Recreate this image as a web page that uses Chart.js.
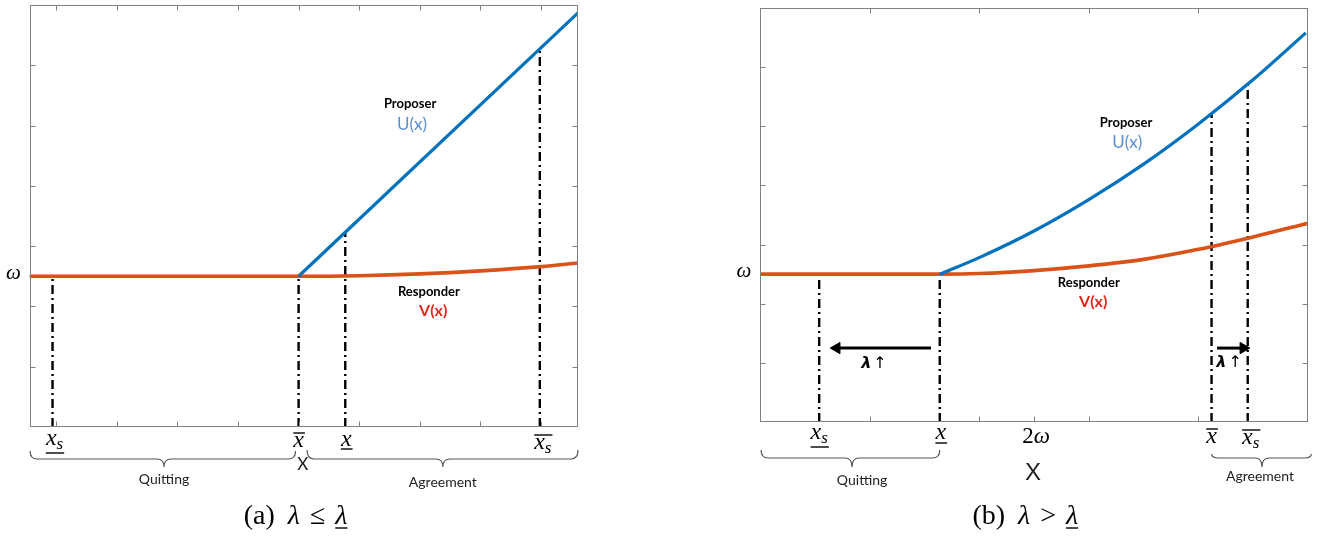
<!DOCTYPE html>
<html><head><meta charset="utf-8">
<script src="https://cdn.jsdelivr.net/npm/chart.js@4.4.0/dist/chart.umd.min.js"></script>
<style>
html,body{margin:0;padding:0;background:#fff;overflow:hidden;}
#wrap{position:relative;width:1326px;height:546px;}
#c1{position:absolute;left:0;top:0;}
#c2{position:absolute;left:663px;top:0;}
</style></head><body>
<div id="wrap"><canvas id="c1" width="663" height="546"></canvas><canvas id="c2" width="663" height="546"></canvas></div>
<script>
// ---------- Panel (a) data ----------
const aUx = [5.0, 9.61];
const aUy = [2.5, 6.87];
const aVx = [0.56, 5.0, 6.0, 7.0, 8.0, 9.0, 9.61];
const aVy = [2.5, 2.5, 2.51, 2.54, 2.59, 2.66, 2.72];
const aMarkX = [0.94, 5.0, 5.77, 8.98];
const aMarkTop = [2.5, 2.5, 3.23, 6.27];
const aXTicks = [1, 2, 3, 4, 5, 6, 7, 8, 9];
// ---------- Panel (b) data ----------
const bUx = [1.64, 2.0, 2.5, 3.0, 3.5, 4.0, 4.5, 4.98];
const bUy = [2.5, 2.78, 3.23, 3.76, 4.36, 5.04, 5.79, 6.58];
const bVx = [0, 1.64, 2.0, 2.5, 3.0, 3.5, 4.0, 4.5, 5.0];
const bVy = [2.5, 2.5, 2.51, 2.56, 2.64, 2.75, 2.92, 3.13, 3.36];
const bMarkX = [0.54, 1.64, 4.12, 4.45];
const bMarkTop = [2.5, 2.5, 5.21, 5.72];
const bXTicksTop = [1, 2, 3, 4];
const bXTicksBottom = [1, 2, 2.5, 3, 4];
const bArrowFrom = [1.56, 4.17];
const bArrowTo = [0.70, 4.41];
const bArrowY = 1.25;
// ---------- shared ----------
const yTicks = [1, 2, 3, 4, 5, 6];
const omega = 2.5;
const twoOmega = 2.5;

const BLUE = '#0072BD', ORANGE = '#D95319';
const zip = (xs, ys) => xs.map((v, i) => ({x: v, y: ys[i]}));

function markerSets(xs, tops) {
  return xs.map((v, i) => ({
    data: [{x: v, y: 0}, {x: v, y: tops[i]}],
    borderColor: '#000', borderWidth: 2.4, borderDash: [9, 4, 2, 4], pointRadius: 0
  }));
}

function drawXLabel(ctx, cx, base, spec) {
  const big = 'italic 24px "Liberation Serif"', small = 'italic 17px "Liberation Serif"';
  ctx.font = big; const wx = ctx.measureText('x').width;
  ctx.font = small; const ws = spec.sub ? ctx.measureText(spec.sub).width : 0;
  const w = wx + ws, x0 = cx - w / 2;
  ctx.fillStyle = '#000'; ctx.textAlign = 'left'; ctx.textBaseline = 'alphabetic';
  ctx.font = big; ctx.fillText('x', x0, base);
  if (spec.sub) { ctx.font = small; ctx.fillText(spec.sub, x0 + wx, base + 4); }
  ctx.strokeStyle = '#000'; ctx.lineWidth = 1.4;
  const by = spec.bar === 'over' ? base - 14 : base + spec.ul;
  ctx.beginPath(); ctx.moveTo(x0, by); ctx.lineTo(x0 + w + 1, by); ctx.stroke();
}

function drawBrace(ctx, x1, x2, tx, yTop, yMid, yTip) {
  const r = 7;
  ctx.strokeStyle = '#555'; ctx.lineWidth = 1.2;
  ctx.beginPath();
  ctx.moveTo(x1, yTop);
  ctx.quadraticCurveTo(x1, yMid, x1 + r, yMid);
  ctx.lineTo(tx - r, yMid);
  ctx.quadraticCurveTo(tx, yMid, tx, yTip);
  ctx.quadraticCurveTo(tx, yMid, tx + r, yMid);
  ctx.lineTo(x2 - r, yMid);
  ctx.quadraticCurveTo(x2, yMid, x2, yTop);
  ctx.stroke();
}

function drawCaption(ctx, cx, base, letter, rel) {
  const up = '28px "Liberation Serif"', it = 'italic 28px "Liberation Serif"';
  const parts = [[letter, up, 13], ['λ', it, 10], [rel, up, 10], ['λ', it, 0]];
  let total = 0;
  parts.forEach(p => { ctx.font = p[1]; p.w = ctx.measureText(p[0]).width; total += p.w + p[2]; });
  let x = cx - total / 2;
  ctx.fillStyle = '#000'; ctx.textAlign = 'left'; ctx.textBaseline = 'alphabetic';
  parts.forEach((p, i) => {
    ctx.font = p[1]; ctx.fillText(p[0], x, base);
    if (i === 3) { ctx.strokeStyle = '#000'; ctx.lineWidth = 1.4; ctx.beginPath(); ctx.moveTo(x, base + 4); ctx.lineTo(x + p.w, base + 4); ctx.stroke(); }
    x += p.w + p[2];
  });
}

function makeDeco(cfg) {
  return {
    id: 'deco',
    afterDatasetsDraw(chart) {
      const {ctx, chartArea: a, scales: {x, y}} = chart;
      const L = Math.round(a.left) + 0.5, R = Math.round(a.right) - 0.5, T = Math.round(a.top) + 0.5, B = Math.round(a.bottom) - 0.5;
      ctx.save();
      ctx.strokeStyle = '#808080'; ctx.lineWidth = 1;
      ctx.strokeRect(L, T, R - L, B - T);
      ctx.beginPath();
      cfg.ticksTop.forEach(v => { const p = Math.round(x.getPixelForValue(v)) + 0.5; ctx.moveTo(p, T); ctx.lineTo(p, T + 5); });
      cfg.ticksBottom.forEach(v => { const p = Math.round(x.getPixelForValue(v)) + 0.5; ctx.moveTo(p, B); ctx.lineTo(p, B - 5); });
      yTicks.forEach(v => { const p = Math.round(y.getPixelForValue(v)) + 0.5; ctx.moveTo(L, p); ctx.lineTo(L + 5, p); ctx.moveTo(R, p); ctx.lineTo(R - 5, p); });
      ctx.stroke();
      // omega label
      ctx.fillStyle = '#000'; ctx.font = 'italic 21px "Liberation Serif"'; ctx.textAlign = 'center'; ctx.textBaseline = 'middle';
      ctx.fillText('ω', a.left - cfg.omegaDx, y.getPixelForValue(omega) - 3);
      // x labels
      cfg.xLabels.forEach(l => drawXLabel(ctx, x.getPixelForValue(l.v) + (l.dx || 0), a.bottom + l.dy, l));
      if (cfg.twoOmega) {
        const cx = x.getPixelForValue(twoOmega) + 2, base = a.bottom + 21;
        ctx.font = '23px "Liberation Serif"'; const w2 = ctx.measureText('2').width;
        ctx.font = 'italic 23px "Liberation Serif"'; const ww = ctx.measureText('ω').width;
        const x0 = cx - (w2 + ww) / 2;
        ctx.textAlign = 'left'; ctx.textBaseline = 'alphabetic';
        ctx.font = '23px "Liberation Serif"'; ctx.fillText('2', x0, base);
        ctx.font = 'italic 23px "Liberation Serif"'; ctx.fillText('ω', x0 + w2, base);
      }
      // braces and their texts
      cfg.braces.forEach(b => {
        drawBrace(ctx, x.getPixelForValue(b.x1), x.getPixelForValue(b.x2), x.getPixelForValue(b.tip), b.yTop, b.yMid, b.yTip);
        ctx.fillStyle = '#222'; ctx.font = '14px Lato'; ctx.textAlign = 'center'; ctx.textBaseline = 'middle';
        ctx.fillText(b.text, x.getPixelForValue(b.tip) + (b.tdx || 0), b.ty);
      });
      // axis X letter
      ctx.fillStyle = '#222'; ctx.font = cfg.X.font; ctx.textAlign = 'center'; ctx.textBaseline = 'middle';
      ctx.fillText('X', x.getPixelForValue(cfg.X.v), cfg.X.y);
      // curve names
      cfg.texts.forEach(t => {
        ctx.fillStyle = t.color; ctx.font = t.font; ctx.textAlign = 'center'; ctx.textBaseline = 'middle';
        ctx.fillText(t.text, x.getPixelForValue(t.x), y.getPixelForValue(t.y));
      });
      // lambda arrows labels
      (cfg.lams || []).forEach(l => {
        const cx = x.getPixelForValue(l.x), cy = y.getPixelForValue(l.y);
        ctx.font = 'bold italic 16px "DejaVu Sans"'; const w1 = ctx.measureText('λ').width;
        ctx.font = '16px "DejaVu Sans"'; const w2 = ctx.measureText('↑').width;
        const x0 = cx - (w1 + w2 + 2) / 2;
        ctx.fillStyle = '#000'; ctx.textAlign = 'left'; ctx.textBaseline = 'middle';
        ctx.font = 'bold italic 16px "DejaVu Sans"'; ctx.fillText('λ', x0, cy);
        ctx.font = '16px "DejaVu Sans"'; ctx.fillText('↑', x0 + w1 + 2, cy);
      });
      drawCaption(ctx, x.getPixelForValue(cfg.cap.v), cfg.cap.base, cfg.cap.letter, cfg.cap.rel);
      ctx.restore();
    }
  };
}

function makeChart(id, cfg) {
  return new Chart(document.getElementById(id), {
    type: 'line',
    data: {datasets: cfg.datasets},
    options: {
      responsive: false, animation: false, events: [],
      layout: {padding: cfg.padding},
      scales: {
        x: {type: 'linear', display: false, min: cfg.xmin, max: cfg.xmax},
        y: {type: 'linear', display: false, min: 0, max: 7}
      },
      plugins: {legend: {display: false}, tooltip: {enabled: false}},
      elements: {point: {radius: 0}, line: {borderCapStyle: 'butt'}}
    },
    plugins: [makeDeco(cfg)]
  });
}

// ---------- Panel (a) ----------
makeChart('c1', {
  padding: {left: 29.5, right: 85, top: 5, bottom: 119},
  xmin: 0.56, xmax: 9.61,
  ticksTop: aXTicks, ticksBottom: aXTicks, omegaDx: 16,
  datasets: [
    {data: zip(aUx, aUy), borderColor: BLUE, borderWidth: 3.2, pointRadius: 0},
    {data: zip(aVx, aVy), borderColor: ORANGE, borderWidth: 3.6, pointRadius: 0, cubicInterpolationMode: 'monotone'},
    ...markerSets(aMarkX, aMarkTop)
  ],
  xLabels: [
    {v: aMarkX[0], sub: 's', bar: 'under', ul: 8, dy: 18, dx: 2},
    {v: aMarkX[1], sub: '', bar: 'over', dy: 20},
    {v: aMarkX[2], sub: '', bar: 'under', ul: 3, dy: 19, dx: 1},
    {v: aMarkX[3], sub: 's', bar: 'over', dy: 22, dx: 3}
  ],
  braces: [
    {x1: 0.57, x2: 4.95, tip: 2.78, yTop: 451, yMid: 459, yTip: 467, text: 'Quitting', ty: 479},
    {x1: 5.14, x2: 9.61, tip: 7.38, yTop: 450, yMid: 459, yTip: 467, text: 'Agreement', ty: 482}
  ],
  X: {v: 5.07, y: 465, font: '17px Lato'},
  texts: [
    {text: 'Proposer', x: 6.84, y: 5.36, color: '#000', font: 'bold 13px Lato'},
    {text: 'U(x)', x: 6.87, y: 5.02, color: '#5a8fd0', font: '17px Lato'},
    {text: 'Responder', x: 7.15, y: 2.24, color: '#000', font: 'bold 13px Lato'},
    {text: 'V(x)', x: 7.22, y: 1.92, color: '#e0261c', font: 'bold 16px Lato'}
  ],
  cap: {v: 4.95, base: 524, letter: '(a)', rel: '≤'}
});

// ---------- Panel (b) ----------
makeChart('c2', {
  padding: {left: 97, right: 18, top: 8, bottom: 124},
  xmin: 0, xmax: 5,
  ticksTop: bXTicksTop, ticksBottom: bXTicksBottom, omegaDx: 16,
  twoOmega: true,
  datasets: [
    {data: zip(bUx, bUy), borderColor: BLUE, borderWidth: 3.2, pointRadius: 0, cubicInterpolationMode: 'monotone'},
    {data: zip(bVx, bVy), borderColor: ORANGE, borderWidth: 3.6, pointRadius: 0, cubicInterpolationMode: 'monotone'},
    ...markerSets(bMarkX, bMarkTop),
    ...bArrowFrom.map((f, i) => ({
      data: [{x: f, y: bArrowY}, {x: bArrowTo[i], y: bArrowY}],
      borderColor: '#000', borderWidth: 3,
      pointStyle: 'triangle', pointRadius: [0, 6.5], pointRotation: [0, bArrowTo[i] < f ? -90 : 90],
      pointBackgroundColor: '#000', pointBorderColor: '#000', pointBorderWidth: 1
    }))
  ],
  xLabels: [
    {v: bMarkX[0], sub: 's', bar: 'under', ul: 8, dy: 17},
    {v: bMarkX[1], sub: '', bar: 'under', ul: 4, dy: 17, dx: 1},
    {v: bMarkX[2], sub: '', bar: 'over', dy: 21},
    {v: bMarkX[3], sub: 's', bar: 'over', dy: 22, dx: 3}
  ],
  braces: [
    {x1: 0.01, x2: 1.64, tip: 0.84, yTop: 450, yMid: 458, yTip: 467, text: 'Quitting', ty: 480, tdx: 10},
    {x1: 4.12, x2: 5.03, tip: 4.58, yTop: 454, yMid: 458, yTip: 467, text: 'Agreement', ty: 476, tdx: -2}
  ],
  X: {v: 2.49, y: 473, font: '24px "Liberation Sans"'},
  texts: [
    {text: 'Proposer', x: 3.34, y: 5.06, color: '#000', font: 'bold 13px Lato'},
    {text: 'U(x)', x: 3.35, y: 4.72, color: '#5a8fd0', font: '17px Lato'},
    {text: 'Responder', x: 3.0, y: 2.36, color: '#000', font: 'bold 13px Lato'},
    {text: 'V(x)', x: 3.04, y: 2.04, color: '#e0261c', font: 'bold 16px Lato'}
  ],
  lams: [{x: 1.04, y: 0.98}, {x: 4.28, y: 1.0}],
  cap: {v: 2.42, base: 524, letter: '(b)', rel: '>'}
});
</script>
</body></html>
